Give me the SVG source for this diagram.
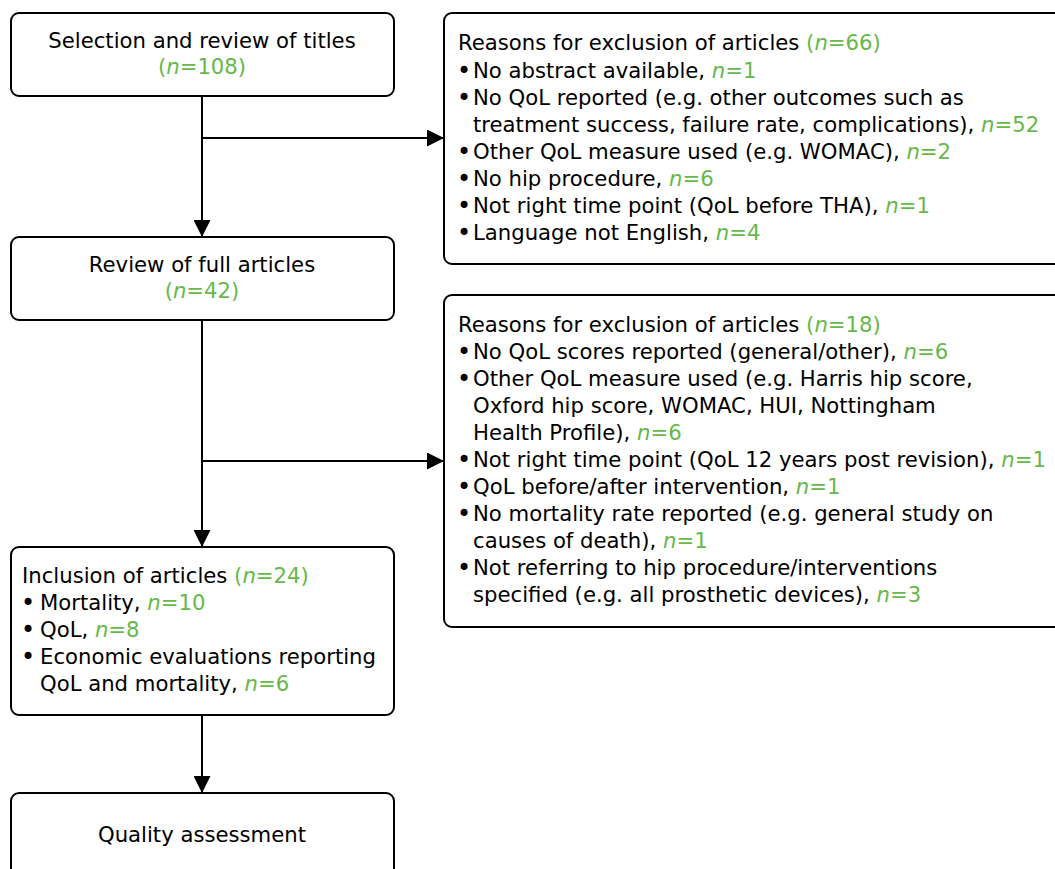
<svg xmlns="http://www.w3.org/2000/svg" width="1055" height="869" viewBox="0 0 1055 869">
<defs>
<marker id="arr" markerWidth="17" markerHeight="17" refX="17" refY="8.5" orient="auto" markerUnits="userSpaceOnUse">
<path d="M0,0 L17,8.5 L0,17 Z" fill="#000"/>
</marker>
<style>
.box{fill:#fff;stroke:#000;stroke-width:2}
.t{font-family:"DejaVu Sans","Noto Sans",sans-serif;font-size:21.2px;fill:#000}
.b{font-family:"DejaVu Sans",sans-serif;font-size:24px;fill:#000}
.g{fill:#66b84a}
.i{font-style:italic}
.c{text-anchor:middle}
.ln{stroke:#000;stroke-width:2;fill:none}
</style>
</defs>
<rect width="1055" height="869" fill="#fff"/>
<g id="connectors">
<path class="ln" d="M202,96 V237" marker-end="url(#arr)"/>
<path class="ln" d="M202,138 H444" marker-end="url(#arr)"/>
<path class="ln" d="M202,320 V547" marker-end="url(#arr)"/>
<path class="ln" d="M202,461 H444" marker-end="url(#arr)"/>
<path class="ln" d="M202,715 V793" marker-end="url(#arr)"/>
</g>
<g id="n1">
<rect class="box" x="11" y="13" width="383" height="83" rx="8"/>
<text class="t c" x="202" y="48">Selection and review of titles</text>
<text class="t c g" x="202" y="74">(<tspan class="i">n</tspan>=108)</text>
</g>
<g id="n2">
<rect class="box" x="11" y="237" width="383" height="83" rx="8"/>
<text class="t c" x="202" y="272">Review of full articles</text>
<text class="t c g" x="202" y="298">(<tspan class="i">n</tspan>=42)</text>
</g>
<g id="n3">
<rect class="box" x="11" y="547" width="383" height="168" rx="8"/>
<text class="t" x="22" y="583">Inclusion of articles <tspan class="g">(<tspan class="i">n</tspan>=24)</tspan></text>
<text class="b" x="21" y="611">•</text><text class="t" x="40" y="610">Mortality, <tspan class="g"><tspan class="i">n</tspan>=10</tspan></text>
<text class="b" x="21" y="638">•</text><text class="t" x="40" y="637">QoL, <tspan class="g"><tspan class="i">n</tspan>=8</tspan></text>
<text class="b" x="21" y="665">•</text><text class="t" x="40" y="664">Economic evaluations reporting</text>
<text class="t" x="40" y="691">QoL and mortality, <tspan class="g"><tspan class="i">n</tspan>=6</tspan></text>
</g>
<g id="n4">
<rect class="box" x="11" y="793" width="383" height="100" rx="8"/>
<text class="t c" x="202" y="842">Quality assessment</text>
</g>
<g id="r1">
<rect class="box" x="444" y="13" width="630" height="251" rx="8"/>
<text class="t" x="458" y="50">Reasons for exclusion of articles <tspan class="g">(<tspan class="i">n</tspan>=66)</tspan></text>
<text class="b" x="457" y="79">•</text><text class="t" x="473" y="78">No abstract available, <tspan class="g"><tspan class="i">n</tspan>=1</tspan></text>
<text class="b" x="457" y="106">•</text><text class="t" x="473" y="105">No QoL reported (e.g. other outcomes such as</text>
<text class="t" x="473" y="132">treatment success, failure rate, complications), <tspan class="g"><tspan class="i">n</tspan>=52</tspan></text>
<text class="b" x="457" y="160">•</text><text class="t" x="473" y="159">Other QoL measure used (e.g. WOMAC), <tspan class="g"><tspan class="i">n</tspan>=2</tspan></text>
<text class="b" x="457" y="187">•</text><text class="t" x="473" y="186">No hip procedure, <tspan class="g"><tspan class="i">n</tspan>=6</tspan></text>
<text class="b" x="457" y="214">•</text><text class="t" x="473" y="213">Not right time point (QoL before THA), <tspan class="g"><tspan class="i">n</tspan>=1</tspan></text>
<text class="b" x="457" y="241">•</text><text class="t" x="473" y="240">Language not English, <tspan class="g"><tspan class="i">n</tspan>=4</tspan></text>
</g>
<g id="r2">
<rect class="box" x="444" y="295" width="630" height="332" rx="8"/>
<text class="t" x="458" y="332">Reasons for exclusion of articles <tspan class="g">(<tspan class="i">n</tspan>=18)</tspan></text>
<text class="b" x="457" y="360">•</text><text class="t" x="473" y="359">No QoL scores reported (general/other), <tspan class="g"><tspan class="i">n</tspan>=6</tspan></text>
<text class="b" x="457" y="387">•</text><text class="t" x="473" y="386">Other QoL measure used (e.g. Harris hip score,</text>
<text class="t" x="473" y="413">Oxford hip score, WOMAC, HUI, Nottingham</text>
<text class="t" x="473" y="440">Health Profile), <tspan class="g"><tspan class="i">n</tspan>=6</tspan></text>
<text class="b" x="457" y="468">•</text><text class="t" x="473" y="467">Not right time point (QoL 12 years post revision), <tspan class="g"><tspan class="i">n</tspan>=1</tspan></text>
<text class="b" x="457" y="495">•</text><text class="t" x="473" y="494">QoL before/after intervention, <tspan class="g"><tspan class="i">n</tspan>=1</tspan></text>
<text class="b" x="457" y="522">•</text><text class="t" x="473" y="521">No mortality rate reported (e.g. general study on</text>
<text class="t" x="473" y="548">causes of death), <tspan class="g"><tspan class="i">n</tspan>=1</tspan></text>
<text class="b" x="457" y="576">•</text><text class="t" x="473" y="575">Not referring to hip procedure/interventions</text>
<text class="t" x="473" y="602">specified (e.g. all prosthetic devices), <tspan class="g"><tspan class="i">n</tspan>=3</tspan></text>
</g>
</svg>
